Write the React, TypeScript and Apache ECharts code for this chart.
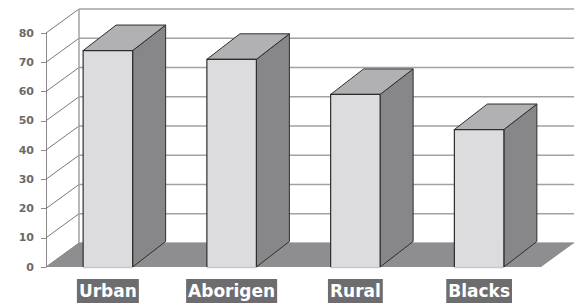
import React, { useEffect, useRef } from "react";
import * as echarts from "echarts";

const categories = ["Urban", "Aborigen", "Rural", "Blacks"];
const values = [74, 71, 59, 47];
const yTicks = [0, 10, 20, 30, 40, 50, 60, 70, 80];

const WALL_DX = 33;
const WALL_DY = -24;
const BAR_DX = 33;
const BAR_DY = -25.5;

export default function App() {
  const ref = useRef<HTMLDivElement>(null);
  useEffect(() => {
    document.body.style.margin = "0";
    const chart = echarts.init(ref.current!, null, { renderer: "svg" });
    const option: any = {
      animation: false,
      backgroundColor: "#ffffff",
      grid: { left: 46, right: 33, top: 33, bottom: 36, containLabel: false },
      xAxis: {
        type: "category",
        data: categories,
        axisLine: { show: false },
        axisTick: { show: false },
        axisLabel: {
          margin: 12,
          color: "#ffffff",
          fontFamily: "DejaVu Sans",
          fontWeight: "bold",
          fontSize: 17,
          lineHeight: 18,
          backgroundColor: "#6d6d70",
          padding: [3, 2, 3, 2],
        },
      },
      yAxis: {
        type: "value",
        min: 0,
        max: 80,
        interval: 10,
        axisLine: { show: true, lineStyle: { color: "#8a8a8a", width: 1 } },
        axisTick: { show: true, length: 5, lineStyle: { color: "#8a8a8a" } },
        splitLine: { show: false },
        axisLabel: {
          margin: 12,
          color: "#6a6a6a",
          fontFamily: "DejaVu Sans",
          fontWeight: "bold",
          fontSize: 11,
        },
      },
      series: [
        {
          type: "custom",
          z: 1,
          silent: true,
          data: [[0, 0]],
          renderItem: (params: any, api: any) => {
            const cs = params.coordSys;
            const L = cs.x;
            const R = cs.x + cs.width;
            const y0 = api.coord([0, 0])[1];
            const yTop = api.coord([0, yTicks[yTicks.length - 1]])[1];
            const children: any[] = [];
            yTicks.forEach((v) => {
              const y = api.coord([0, v])[1];
              children.push({
                type: "line",
                shape: { x1: L + WALL_DX, y1: y + WALL_DY, x2: R + WALL_DX, y2: y + WALL_DY },
                style: { stroke: "#a2a2a2", lineWidth: 1.5 },
              });
              children.push({
                type: "line",
                shape: { x1: L, y1: y, x2: L + WALL_DX, y2: y + WALL_DY },
                style: { stroke: "#7a7a7a", lineWidth: 1 },
              });
            });
            children.push({
              type: "line",
              shape: { x1: L + WALL_DX, y1: y0 + WALL_DY, x2: L + WALL_DX, y2: yTop + WALL_DY },
              style: { stroke: "#a2a2a2", lineWidth: 1.5 },
            });
            children.push({
              type: "polygon",
              shape: {
                points: [
                  [L, y0],
                  [R, y0],
                  [R + WALL_DX, y0 + WALL_DY],
                  [L + WALL_DX, y0 + WALL_DY],
                ],
              },
              style: { fill: "#8e8e90" },
            });
            return { type: "group", children };
          },
        },
        {
          type: "custom",
          z: 2,
          data: values.map((v, i) => [i, v]),
          renderItem: (params: any, api: any) => {
            const i = api.value(0);
            const v = api.value(1);
            const base = api.coord([i, 0]);
            const top = api.coord([i, v]);
            const w = api.size([1, 0])[0] * 0.4;
            const xl = base[0] - w / 2;
            const xr = base[0] + w / 2;
            const yb = base[1];
            const yt = top[1];
            const stroke = "#2e2e2e";
            return {
              type: "group",
              children: [
                {
                  type: "polygon",
                  shape: {
                    points: [
                      [xr, yt],
                      [xr + BAR_DX, yt + BAR_DY],
                      [xr + BAR_DX, yb + BAR_DY],
                      [xr, yb],
                    ],
                  },
                  style: { fill: "#87878a", stroke, lineWidth: 1 },
                },
                {
                  type: "polygon",
                  shape: {
                    points: [
                      [xl, yt],
                      [xl + BAR_DX, yt + BAR_DY],
                      [xr + BAR_DX, yt + BAR_DY],
                      [xr, yt],
                    ],
                  },
                  style: { fill: "#b1b1b4", stroke, lineWidth: 1 },
                },
                {
                  type: "rect",
                  shape: { x: xl, y: yt, width: w, height: yb - yt },
                  style: { fill: "#dcdcde" },
                },
                {
                  type: "line",
                  shape: { x1: xl, y1: yb + 0.5, x2: xr, y2: yb + 0.5 },
                  style: { stroke: "#c8c8ca", lineWidth: 1.5 },
                },
                {
                  type: "polyline",
                  shape: { points: [[xl, yb], [xl, yt], [xr, yt], [xr, yb]] },
                  style: { fill: null, stroke, lineWidth: 1.2 },
                },
              ],
            };
          },
        },
      ],
    };
    chart.setOption(option);
    return () => chart.dispose();
  }, []);
  return (
    <div
      ref={ref}
      style={{ position: "fixed", left: 0, top: 0, width: 574, height: 303 }}
    />
  );
}
